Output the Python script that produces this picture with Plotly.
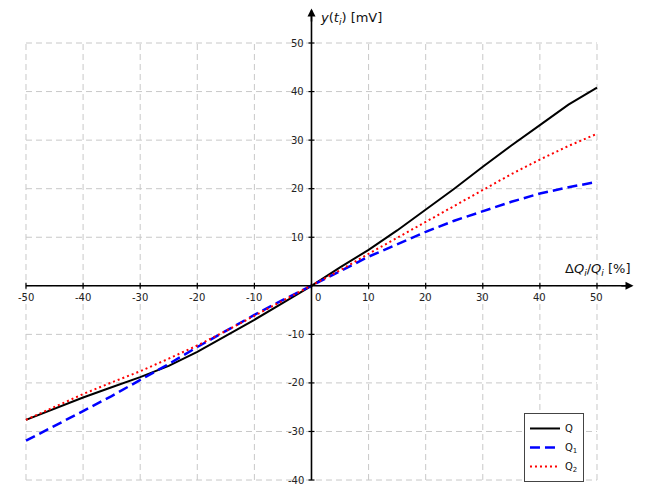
import plotly.graph_objects as go

# ---- data ----
x_vals = [-50, -45, -40, -35, -30, -25, -20, -15, -10, -5, 0, 5, 10, 15, 20, 25, 30, 35, 40, 45, 50]
q_vals = [-27.6, -25.3, -23.0, -20.9, -18.8, -16.5, -13.6, -10.3, -7.0, -3.5, 0.0,
          3.8, 7.4, 11.4, 15.7, 20.0, 24.5, 28.9, 33.1, 37.3, 40.8]
q1_vals = [-31.9, -28.9, -25.8, -22.7, -19.4, -16.1, -12.6, -9.3, -6.0, -2.9, 0.0,
           3.0, 6.0, 8.6, 11.1, 13.4, 15.4, 17.3, 19.0, 20.3, 21.4]
q2_vals = [-27.6, -24.9, -22.3, -19.9, -17.6, -15.0, -12.3, -9.3, -6.2, -3.0, 0.0,
           3.2, 6.6, 9.9, 13.2, 16.5, 19.8, 23.0, 26.0, 28.8, 31.3]
series_names = ["Q", "Q<sub>1</sub>", "Q<sub>2</sub>"]
x_ticks = [-50, -40, -30, -20, -10, 0, 10, 20, 30, 40, 50]
y_ticks = [-40, -30, -20, -10, 10, 20, 30, 40, 50]
y_grid = [-40, -30, -20, -10, 0, 10, 20, 30, 40, 50]
x_title = "Δ<i>Q<sub>i</sub></i>/<i>Q<sub>i</sub></i> [%]"
y_title = "<i>y</i>(<i>t<sub>i</sub></i>) [mV]"

X_MIN, X_MAX = -50, 50
Y_MIN, Y_MAX = -40, 50

FONT = "DejaVu Sans"

fig = go.Figure()
fig.add_trace(go.Scatter(x=x_vals, y=q_vals, mode="lines", name=series_names[0],
                         line=dict(color="black", width=2)))
fig.add_trace(go.Scatter(x=x_vals, y=q1_vals, mode="lines", name=series_names[1],
                         line=dict(color="#0000ff", width=2.5, dash="10px,5px")))
fig.add_trace(go.Scatter(x=x_vals, y=q2_vals, mode="lines", name=series_names[2],
                         line=dict(color="#ff0000", width=2, dash="2px,3px")))

shapes = []
grid_style = dict(color="#c8c8c8", width=1, dash="6px,4px")
for xv in x_ticks:
    shapes.append(dict(type="line", xref="x", yref="y", x0=xv, x1=xv, y0=Y_MIN, y1=Y_MAX,
                       line=grid_style, layer="below"))
for yv in y_grid:
    shapes.append(dict(type="line", xref="x", yref="y", x0=X_MIN, x1=X_MAX, y0=yv, y1=yv,
                       line=grid_style, layer="below"))
# axis lines
shapes.append(dict(type="line", xref="x", yref="y", x0=X_MIN, x1=55.5, y0=0, y1=0,
                   line=dict(color="black", width=1.6)))
shapes.append(dict(type="line", xref="x", yref="y", x0=0, x1=0, y0=Y_MIN, y1=55.5,
                   line=dict(color="black", width=1.6)))
# tick marks on the axes
for xv in x_ticks:
    shapes.append(dict(type="line", xref="x", yref="y", ysizemode="pixel", yanchor=0,
                       x0=xv, x1=xv, y0=-3, y1=3, line=dict(color="black", width=1.2)))
for yv in y_ticks:
    shapes.append(dict(type="line", xref="x", yref="y", xsizemode="pixel", xanchor=0,
                       x0=-3, x1=3, y0=yv, y1=yv, line=dict(color="black", width=1.2)))

annotations = []
# arrow heads on the axes
annotations.append(dict(x=56.4, y=0, ax=54.0, ay=0, xref="x", yref="y", axref="x", ayref="y",
                        showarrow=True, arrowhead=2, arrowsize=1, arrowwidth=1.6,
                        arrowcolor="black", text=" ", font=dict(size=1)))
annotations.append(dict(x=0, y=57.1, ax=0, ay=54.0, xref="x", yref="y", axref="x", ayref="y",
                        showarrow=True, arrowhead=2, arrowsize=1, arrowwidth=1.6,
                        arrowcolor="black", text=" ", font=dict(size=1)))
tick_font = dict(family=FONT, size=10, color="#222222")
for xv in x_ticks:
    if xv == 0:
        annotations.append(dict(x=0, y=0, xref="x", yref="y", text="0", showarrow=False,
                                xanchor="left", yanchor="top", xshift=2, yshift=-4, font=tick_font))
    else:
        annotations.append(dict(x=xv, y=0, xref="x", yref="y", text=str(xv), showarrow=False,
                                xanchor="center", yanchor="top", yshift=-4, font=tick_font))
for yv in y_ticks:
    annotations.append(dict(x=0, y=yv, xref="x", yref="y", text=str(yv), showarrow=False,
                            xanchor="right", yanchor="middle", xshift=-5, font=tick_font))
title_font = dict(family=FONT, size=13, color="#111111")
annotations.append(dict(x=56.1, y=0, xref="x", yref="y", text=x_title, showarrow=False,
                        xanchor="right", yanchor="bottom", yshift=6, font=title_font))
annotations.append(dict(x=0, y=55.0, xref="x", yref="y", text=y_title, showarrow=False,
                        xanchor="left", yanchor="middle", xshift=7, yshift=0, font=title_font))

# the page body adds an 8px offset; ranges are set so the chart lands where the reference has it
fig.update_layout(
    width=651, height=485,
    margin=dict(l=0, r=0, t=0, b=0),
    paper_bgcolor="white", plot_bgcolor="white",
    xaxis=dict(range=[-53.15, 60.86], showgrid=False, zeroline=False, showticklabels=False,
               showline=False, ticks=""),
    yaxis=dict(range=[-42.67, 57.21], showgrid=False, zeroline=False, showticklabels=False,
               showline=False, ticks=""),
    shapes=shapes,
    annotations=annotations,
    showlegend=True,
    legend=dict(x=0.7926, y=0.165, xanchor="left", yanchor="top",
                bgcolor="white", bordercolor="#444444", borderwidth=1,
                font=dict(family=FONT, size=10, color="#111111"),
                itemwidth=30, tracegroupgap=0),
)

fig.write_html("out.html")
